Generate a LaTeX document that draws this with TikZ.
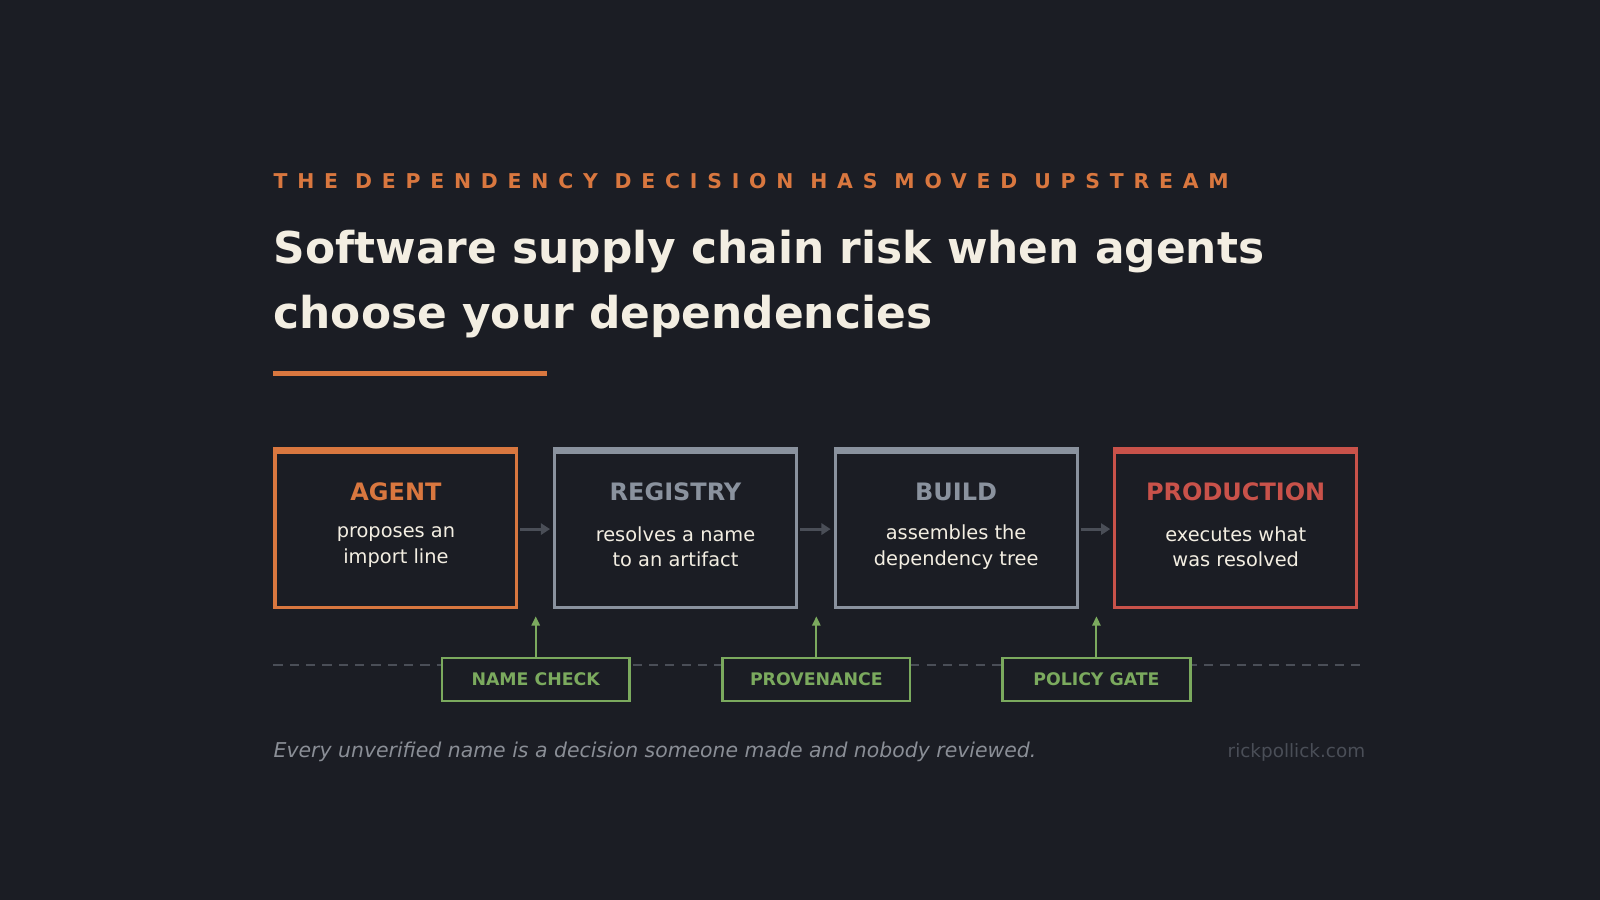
\documentclass[tikz,border=0pt]{standalone}
\usepackage{fontspec}
\setmainfont{DejaVu Sans}
\usetikzlibrary{arrows.meta}
\definecolor{bg}{HTML}{1B1D24}
\definecolor{org}{HTML}{D9773F}
\definecolor{gry}{HTML}{8A929E}
\definecolor{rd}{HTML}{C9524A}
\definecolor{grn}{HTML}{7BAA5E}
\definecolor{agr}{HTML}{4A4E57}
\definecolor{crm}{HTML}{F3EEE2}
\definecolor{foot}{HTML}{8A8E96}
\definecolor{site}{HTML}{4A4E57}
\begin{document}
\begin{tikzpicture}[x=1pt,y=-1pt,
  box/.style={draw=#1,line width=3pt,fill=bg,minimum width=237pt,minimum height=154pt,inner sep=0pt},
  ttl/.style={font=\fontsize{23.5}{26}\selectfont\bfseries,text=#1},
  desc/.style={font=\fontsize{19}{25}\selectfont,text=crm,align=center},
  chk/.style={draw=grn,line width=2.5pt,minimum width=184pt,minimum height=42pt,inner sep=0pt,text=grn,font=\fontsize{17}{18}\selectfont\bfseries},
  flow/.style={agr,line width=3pt,-{Triangle[length=9pt,width=11pt]}},
  up/.style={grn,line width=2pt,-{Triangle[length=9pt,width=8pt]}}]
\fill[bg] (0,0) rectangle (1568,882);
\useasboundingbox (0,0) rectangle (1568,882);
\node[anchor=base west,inner sep=0pt,text=org,font=\fontsize{20}{24}\selectfont\bfseries\addfontfeature{LetterSpace=48}] (sub) at (268,185) {THE DEPENDENCY DECISION HAS MOVED UPSTREAM};
\node[anchor=base west,inner sep=0pt,text=crm,font=\fontsize{43}{50}\selectfont\bfseries] (t1) at (268,258) {Software supply chain risk when agents};
\node[anchor=base west,inner sep=0pt,text=crm,font=\fontsize{43}{50}\selectfont\bfseries] (t2) at (268,322) {choose your dependencies};
\draw[org,line width=4pt] (268,366) -- (536,366);
\foreach \n/\x/\c/\t/\d in {a/388/org/AGENT/{proposes an\\import line},
  r/662/gry/REGISTRY/{resolves a name\\to an artifact},
  b/937/gry/BUILD/{assembles the\\dependency tree},
  p/1211/rd/PRODUCTION/{executes what\\was resolved}}{
  \node[box=\c] (\n) at (\x,518.5) {};
  \fill[\c] (\x-120,438) rectangle (\x+120,445);
  \node[ttl=\c] (\n t) at (\x,482) {\t};
  \node[desc] (\n d) at (\x,536) {\d};
}
\draw[flow] (a.east) ++(2,0) -- ([xshift=-3pt]r.west);
\draw[flow] (r.east) ++(2,0) -- ([xshift=-3pt]b.west);
\draw[flow] (b.east) ++(2,0) -- ([xshift=-3pt]p.west);
\draw[agr,line width=2pt,dash pattern=on 9pt off 7pt] (268,652) -- (1340,652);
\node[chk,fill=bg] (c1) at (525,666) {NAME CHECK};
\node[chk,fill=bg] (c2) at (800,666) {PROVENANCE};
\node[chk,fill=bg] (c3) at (1074.5,666) {POLICY GATE};
\coordinate (u1) at (525,604);
\coordinate (u2) at (800,604);
\coordinate (u3) at (1074.5,604);
\draw[up] (c1.north) -- (u1);
\draw[up] (c2.north) -- (u2);
\draw[up] (c3.north) -- (u3);
\node[anchor=base west,inner sep=0pt,text=foot,font=\fontsize{20}{22}\selectfont\itshape] (f) at (268,742) {Every unverified name is a decision someone made and nobody reviewed.};
\node[anchor=base east,inner sep=0pt,text=site,font=\fontsize{18}{20}\selectfont] (s) at (1338,742) {rickpollick.com};
\end{tikzpicture}
\end{document}
